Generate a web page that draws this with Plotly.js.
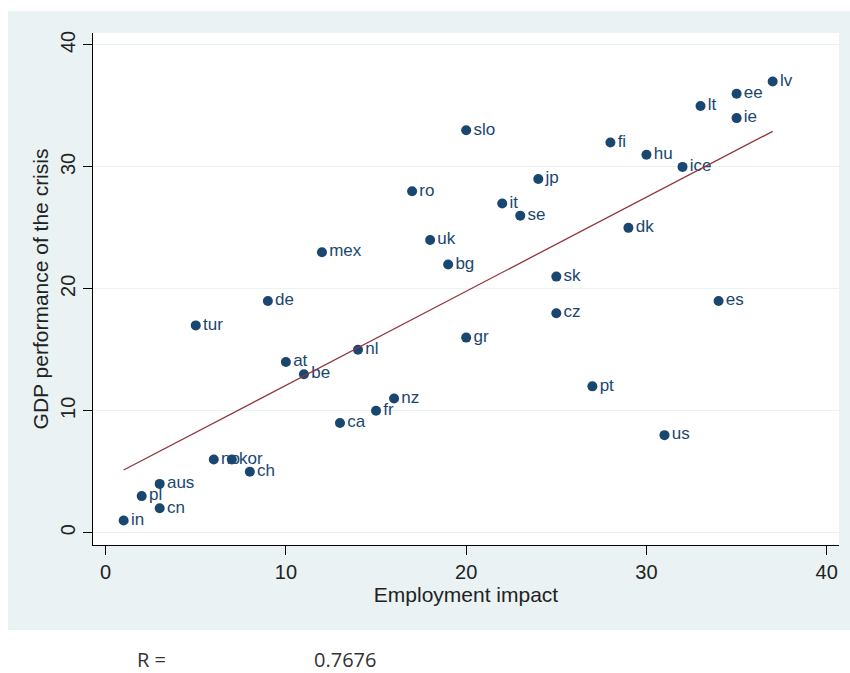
<!DOCTYPE html>
<html>
<head>
<meta charset="utf-8">
<script src="https://cdn.plot.ly/plotly-3.0.1.min.js"></script>
<style>html,body{margin:0;padding:0;background:#fff;}#chart{width:850px;height:673px;}</style>
</head>
<body>
<div id="chart"></div>
<script>
// Data
var countries = ["lv","ee","lt","ie","fi","hu","ice","slo","jp","ro","it","se","dk","uk","mex","bg","sk","de","es","cz","tur","gr","nl","at","be","pt","nz","fr","ca","us","no","kor","ch","aus","pl","cn","in"];
var employmentImpact = [37,35,33,35,28,30,32,20,24,17,22,23,29,18,12,19,25,9,34,25,5,20,14,10,11,27,16,15,13,31,6,7,8,3,2,3,1];
var gdpPerformance = [37,36,35,34,32,31,30,33,29,28,27,26,25,24,23,22,21,19,19,18,17,16,15,14,13,12,11,10,9,8,6,6,5,4,3,2,1];
var xTicks = [0,10,20,30,40];
var yTicks = [0,10,20,30,40];
var rLabel = "R =";
var rValue = "0.7676";

// Least-squares fit line computed from the data
var n = employmentImpact.length, sx=0, sy=0, sxx=0, sxy=0;
for (var i=0;i<n;i++){ sx+=employmentImpact[i]; sy+=gdpPerformance[i]; sxx+=employmentImpact[i]*employmentImpact[i]; sxy+=employmentImpact[i]*gdpPerformance[i]; }
var slope = (n*sxy - sx*sy)/(n*sxx - sx*sx);
var intercept = (sy - slope*sx)/n;
var xmin = Math.min.apply(null, employmentImpact), xmax = Math.max.apply(null, employmentImpact);
var fitX = [xmin, xmax];
var fitY = fitX.map(function(v){ return intercept + slope*v; });

var navy = "#1a476f";
var traces = [
  {
    x: employmentImpact, y: gdpPerformance, text: countries,
    type: "scatter", mode: "markers+text", textposition: "middle right",
    marker: {color: navy, size: 10, line: {width: 0}},
    textfont: {family: "Liberation Sans, Arial, sans-serif", size: 17, color: navy},
    cliponaxis: false, hoverinfo: "none"
  },
  {
    x: fitX, y: fitY, type: "scatter", mode: "lines",
    line: {color: "#90353b", width: 1.3}, hoverinfo: "none"
  }
];

var axisFont = {family: "Liberation Sans, Arial, sans-serif", size: 20, color: "#222"};
var layout = {
  width: 850, height: 673, autosize: false,
  paper_bgcolor: "#ffffff", plot_bgcolor: "#ffffff",
  showlegend: false,
  margin: {l: 93, r: 11, t: 33, b: 128, pad: 0},
  xaxis: {
    range: [-0.70, 40.68], tickvals: xTicks, ticktext: xTicks.map(String),
    showgrid: false, zeroline: false,
    showline: true, linecolor: "#000", linewidth: 1,
    ticks: "outside", ticklen: 9, tickcolor: "#000", tickwidth: 1,
    tickfont: axisFont,
    title: {text: "Employment impact", font: {family: "Liberation Sans, Arial, sans-serif", size: 21, color: "#222"}, standoff: 0},
    automargin: false
  },
  yaxis: {
    range: [-1.01, 40.98], tickvals: yTicks, ticktext: yTicks.map(String),
    showgrid: true, gridcolor: "#eaf2f3", gridwidth: 1, zeroline: false,
    showline: true, linecolor: "#000", linewidth: 1,
    ticks: "outside", ticklen: 9, tickcolor: "#000", tickwidth: 1,
    tickangle: -90, tickfont: axisFont,
    title: {text: "GDP performance of the crisis", font: {family: "Liberation Sans, Arial, sans-serif", size: 21, color: "#222"}, standoff: 2},
    automargin: false
  },
  shapes: [
    {type: "rect", xref: "paper", yref: "paper", x0: -0.1139, x1: 1.02, y0: -0.166, y1: 1.043,
     fillcolor: "#eaf2f3", line: {width: 0}, layer: "below"},
    {type: "rect", xref: "paper", yref: "paper", x0: 0, x1: 1, y0: 0, y1: 1,
     fillcolor: "#ffffff", line: {width: 0}, layer: "below"}
  ],
  annotations: [
    {text: rLabel, xref: "paper", yref: "paper", x: 0.0563, y: -0.2227, xanchor: "left", yanchor: "middle",
     showarrow: false, font: {family: "Open Sans, sans-serif", size: 20, color: "#333"}},
    {text: rValue, xref: "paper", yref: "paper", x: 0.2936, y: -0.2227, xanchor: "left", yanchor: "middle",
     showarrow: false, font: {family: "Open Sans, sans-serif", size: 20, color: "#333"}}
  ]
};

Plotly.newPlot("chart", traces, layout, {displayModeBar: false, staticPlot: true});
</script>
</body>
</html>
